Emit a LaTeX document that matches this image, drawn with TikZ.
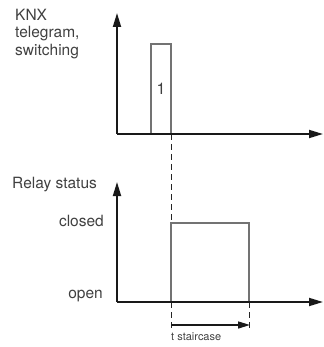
\documentclass[tikz,border=0pt]{standalone}
\usepackage{fontspec}
\setmainfont{TeX Gyre Heros}
\usetikzlibrary{positioning}
\usetikzlibrary{arrows.meta}

\begin{document}
\begin{tikzpicture}[x=1pt, y=-1pt,
axisline/.style={draw=black!90, line width=1.8pt, -{Triangle[length=14pt,width=8pt]}},
pulseline/.style={draw=black!55, line width=1.2pt},
guideline/.style={draw=black!85, line width=0.9pt, dash pattern=on 6pt off 4pt},
timeline/.style={draw=black!90, line width=1.5pt, -{Triangle[length=12pt,width=7pt]}},
labeltext/.style={text=black!75, inner sep=0pt, font=\fontsize{15.5}{17.5}\selectfont}]
\useasboundingbox (0,0) rectangle (323,347);

% telegram diagram
\coordinate (o1) at (117,134);
\coordinate (y1) at (117,13);
\coordinate (x1) at (323,134);
\coordinate (p1) at (151,134);
\coordinate (p2) at (171,44);
\coordinate (p3) at (171,134);

% relay diagram
\coordinate (o2) at (117,302);
\coordinate (y2) at (117,182);
\coordinate (x2) at (323,302);
\coordinate (r1) at (171,302);
\coordinate (r2) at (171,223);
\coordinate (r3) at (249,223);
\coordinate (r4) at (249,302);
\coordinate (d1) at (171,328);
\coordinate (d2) at (249,328);
\coordinate (t1) at (171,325);
\coordinate (t2) at (250,325);

\node[labeltext, anchor=north west, align=left] (knx) at (15,9) {KNX\\telegram,\\switching};
\node[labeltext, font=\fontsize{16}{18}\selectfont] (one) at (161,89) {1};
\node[labeltext, anchor=base west] (relay) at (12,188) {Relay status};
\node[labeltext, anchor=base east] (closed) at (104,226) {closed};
\node[labeltext, anchor=base east] (open) at (103,298) {open};
\node[labeltext, anchor=base west, font=\fontsize{11}{13}\selectfont] (tstair) at (171,340) {t staircase};

\draw[guideline] (p3) -- (r2);
\draw[guideline] (r1) -- (d1);
\draw[guideline] (r4) -- (d2);

\draw[pulseline] (p1) |- (p2) -- (p3);
\draw[pulseline] (r1) -- (r2) -- (r3) -- (r4);

\draw[axisline] (o1) -- (y1);
\draw[axisline] (o1) -- (x1);
\draw[axisline] (o2) -- (y2);
\draw[axisline] (o2) -- (x2);
\draw[timeline] (t1) -- (t2);
\end{tikzpicture}
\end{document}
